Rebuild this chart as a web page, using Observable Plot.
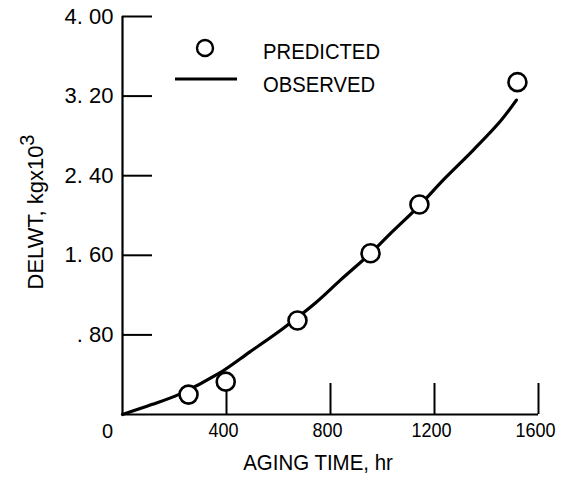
<!DOCTYPE html>
<html>
<head>
<meta charset="utf-8">
<script src="https://cdn.jsdelivr.net/npm/d3@7"></script>
<script src="https://cdn.jsdelivr.net/npm/@observablehq/plot@0.6"></script>
<style>
  html, body { margin: 0; padding: 0; background: #fff; }
  #chart svg { display: block; }
</style>
</head>
<body>
<div id="chart"></div>
<script>
// Predicted points (aging time hr, DELWT kg x10^3)
const predTime = [254, 397, 673, 954, 1142, 1519];
const predDelwt = [0.20, 0.33, 0.945, 1.62, 2.11, 3.34];

// Observed curve
const obsTime = [0, 112, 215, 369, 490, 615, 742, 838, 954, 1031, 1142, 1235, 1350, 1454, 1515];
const obsDelwt = [0, 0.10, 0.20, 0.41, 0.63, 0.86, 1.12, 1.35, 1.62, 1.82, 2.10, 2.36, 2.66, 2.95, 3.16];

// Ticks
const xTicks = [400, 800, 1200, 1600];
const xTickLabels = ["400", "800", "1200", "1600"];
const xZeroLabel = ["0"];
const yTicks = [0.8, 1.6, 2.4, 3.2, 4.0];
const yTickLabels = [". 80", "1. 60", "2. 40", "3. 20", "4. 00"];

const xLabel = "AGING TIME, hr";
const yLabel = "DELWT, kgx10";
const yLabelSup = "3";
const legendLabels = ["PREDICTED", "OBSERVED"];

const pred = predTime.map((t, i) => ({t, v: predDelwt[i]}));
const obs = obsTime.map((t, i) => ({t, v: obsDelwt[i]}));

const W = 561, H = 487;
const mL = 122, mR = 23, mT = 16, mB = 73;
const plotW = W - mL - mR, plotH = H - mT - mB;
const FS = 22;
const FSX = 20;
const ff = '"Liberation Sans", Arial, sans-serif';

const chart = Plot.plot({
  width: W,
  height: H,
  marginLeft: mL,
  marginRight: mR,
  marginTop: mT,
  marginBottom: mB,
  style: {fontSize: FS + "px", fontFamily: ff, color: "#000", background: "#fff"},
  x: {domain: [0, 1600]},
  y: {domain: [0, 4]},
  marks: [
    Plot.ruleX([0], {stroke: "#000", strokeWidth: 2.2}),
    Plot.ruleY([0], {stroke: "#000", strokeWidth: 2.2}),
    Plot.tickY(yTicks, {y: d => d, insetRight: plotW - 30, stroke: "#000", strokeWidth: 2}),
    Plot.tickX(xTicks, {x: d => d, insetTop: plotH - 31, stroke: "#000", strokeWidth: 2}),
    Plot.axisY({ticks: yTicks, tickSize: 0, tickPadding: 9, tickFormat: d => yTickLabels[yTicks.indexOf(d)], label: null, fontSize: FS}),
    Plot.axisX({ticks: xTicks, tickSize: 0, tickPadding: 8, dx: -3, tickFormat: d => xTickLabels[xTicks.indexOf(d)], label: null, fontSize: FSX}),
    Plot.text(xZeroLabel, {x: () => 0, frameAnchor: "bottom", text: d => d, dx: -15, dy: 23, fontSize: FSX, ariaLabel: "x-zero"}),
    Plot.line(obs, {x: "t", y: "v", curve: "catmull-rom", stroke: "#000", strokeWidth: 3.2}),
    Plot.dot(pred, {x: "t", y: "v", r: 9, fill: "#fff", stroke: "#000", strokeWidth: 2.6})
  ]
});

document.getElementById("chart").appendChild(chart);

const svg = d3.select(chart);

// condense labels like the reference's narrow typeface
function squeeze(sel, k) {
  sel.each(function () {
    const L = this.getComputedTextLength();
    this.setAttribute("textLength", (L * k).toFixed(1));
    this.setAttribute("lengthAdjust", "spacingAndGlyphs");
  });
}
squeeze(svg.selectAll('g[aria-label="x-axis tick label"] text'), 0.9);
squeeze(svg.selectAll('g[aria-label="x-zero"] text'), 0.9);

// x-axis title
const xt = svg.append("text")
  .attr("x", 318).attr("y", 470)
  .attr("text-anchor", "middle")
  .attr("font-family", ff).attr("font-size", 22)
  .attr("fill", "#000")
  .text(xLabel);
squeeze(xt, 0.93);

// y-axis title with superscript
const yt = svg.append("text")
  .attr("transform", "translate(43,212) rotate(-90)")
  .attr("text-anchor", "middle")
  .attr("font-family", ff).attr("font-size", 22)
  .attr("fill", "#000");
yt.append("tspan").text(yLabel);
yt.append("tspan").attr("dy", -9).attr("font-size", 20).text(yLabelSup);

// legend
const lg = svg.append("g").attr("text-anchor", "start");
lg.append("circle").attr("cx", 205).attr("cy", 48).attr("r", 8)
  .attr("fill", "#fff").attr("stroke", "#000").attr("stroke-width", 2.4);
lg.append("line").attr("x1", 175).attr("x2", 237).attr("y1", 79).attr("y2", 79)
  .attr("stroke", "#000").attr("stroke-width", 3.2);
const t1 = lg.append("text").attr("x", 263).attr("y", 59).attr("text-anchor", "start")
  .attr("font-family", ff).attr("font-size", 22).attr("fill", "#000").text(legendLabels[0]);
const t2 = lg.append("text").attr("x", 263).attr("y", 92).attr("text-anchor", "start")
  .attr("font-family", ff).attr("font-size", 22).attr("fill", "#000").text(legendLabels[1]);
squeeze(t1, 0.92);
squeeze(t2, 0.92);
</script>
</body>
</html>
